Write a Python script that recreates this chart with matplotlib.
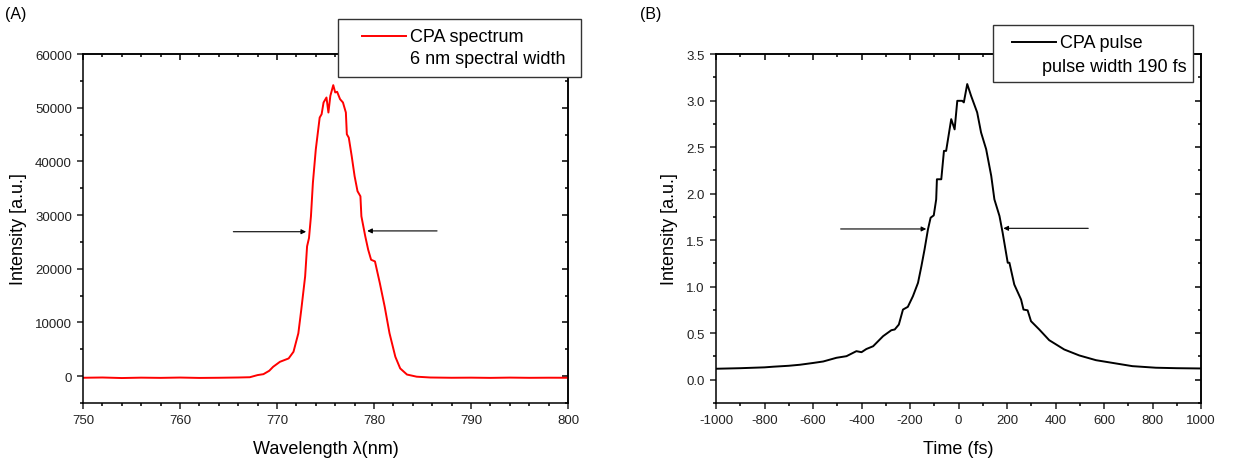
import matplotlib
matplotlib.use("Agg")
import matplotlib.pyplot as plt
from matplotlib.patches import Rectangle
from matplotlib.lines import Line2D
from matplotlib.ticker import MultipleLocator, FormatStrFormatter

plt.rcParams['font.family'] = ['Liberation Sans', 'DejaVu Sans']
plt.rcParams['axes.unicode_minus'] = False

# ---- data: panel A (spectrum) ----
wavelength = [750, 752, 754, 756, 758, 760, 762, 764, 766, 767.2,
              768.0, 768.6, 769.2, 769.6, 770.3, 771.2, 771.7, 772.2, 772.5, 772.9,
              773.1, 773.3, 773.5, 773.7, 774.0, 774.4, 774.6, 774.8, 775.1, 775.3,
              775.5, 775.8, 776.0, 776.2, 776.5, 776.8, 777.1, 777.2, 777.4, 777.7,
              778.0, 778.3, 778.6, 778.7, 779.1, 779.4, 779.7, 780.1, 780.6, 781.1,
              781.6, 782.2, 782.7, 783.4, 784.4, 785.8, 788, 790, 792, 794,
              796, 798, 800]
spectrum = [-300, -250, -350, -280, -320, -260, -330, -300, -250, -200,
            200, 370, 1000, 1740, 2670, 3300, 4540, 7980, 12340, 18560,
            24170, 25740, 29780, 36010, 42240, 48160, 48790, 50970, 51900, 49100,
            52210, 54200, 52840, 52960, 51590, 50970, 49100, 45050, 44420, 40990,
            37250, 34450, 33500, 29780, 26040, 23550, 21680, 21370, 17330, 12960,
            7980, 3610, 1440, 300, -100, -250, -300, -280, -320, -270,
            -310, -290, -300]

# ---- data: panel B (pulse) ----
time_fs = [-1000, -900, -800, -764, -700, -654, -600, -558, -503, -462,
           -421, -400, -380, -352, -311, -277, -263, -246, -229, -209,
           -188, -167, -153, -140, -126, -115, -102, -92, -89, -71,
           -60, -51, -30, -16, -5, 15, 22, 36, 52, 77,
           93, 114, 135, 148, 169, 182, 203, 210, 230, 258,
           268, 285, 299, 333, 374, 436, 498, 567, 649, 717,
           814, 900, 1000]
pulse = [0.118, 0.124, 0.133, 0.140, 0.150, 0.161, 0.180, 0.196, 0.236, 0.253,
         0.307, 0.296, 0.330, 0.360, 0.468, 0.532, 0.540, 0.593, 0.754, 0.783,
         0.897, 1.041, 1.22, 1.40, 1.615, 1.741, 1.766, 1.938, 2.154, 2.154,
         2.459, 2.459, 2.80, 2.69, 2.997, 2.997, 2.98, 3.177, 3.05, 2.872,
         2.657, 2.477, 2.19, 1.938, 1.759, 1.58, 1.257, 1.257, 1.023, 0.862,
         0.754, 0.746, 0.629, 0.54, 0.425, 0.325, 0.261, 0.21, 0.175, 0.146,
         0.129, 0.124, 0.121]

# FWHM arrows: (tail_x, head_x, y)
arrows_A = [(765.5, 773.0, 26900), (786.5, 779.3, 27050)]
arrows_B = [(-486, -133, 1.62), (535, 185, 1.627)]

W, H = 1237, 464
fig = plt.figure(figsize=(W / 100, H / 100), dpi=100)

def fx(px):
    return px / W

def fy(py):
    return 1 - py / H

axA = fig.add_axes([fx(83), fy(404), 485 / W, 349 / H])
axB = fig.add_axes([fx(716), fy(404), 485 / W, 349 / H])

TICK_FS = 9.5
LABEL_FS = 13


def style(ax, xmaj, xmin, ymaj, ymin):
    for s in ax.spines.values():
        s.set_linewidth(1.1)
    ax.xaxis.set_major_locator(MultipleLocator(xmaj))
    ax.xaxis.set_minor_locator(MultipleLocator(xmin))
    ax.yaxis.set_major_locator(MultipleLocator(ymaj))
    ax.yaxis.set_minor_locator(MultipleLocator(ymin))
    ax.tick_params(which='major', direction='out', length=4.5, width=1.1,
                   labelsize=TICK_FS, colors='#222222')
    ax.tick_params(which='minor', direction='out', length=2.5, width=1.1)
    # inward ticks on top and right
    top = ax.secondary_xaxis('top')
    top.xaxis.set_major_locator(MultipleLocator(xmaj))
    top.xaxis.set_minor_locator(MultipleLocator(xmin))
    top.tick_params(which='major', direction='in', length=4.5, width=1.1, labeltop=False)
    top.tick_params(which='minor', direction='in', length=2.5, width=1.1)
    top.spines['top'].set_linewidth(1.1)
    right = ax.secondary_yaxis('right')
    right.yaxis.set_major_locator(MultipleLocator(ymaj))
    right.yaxis.set_minor_locator(MultipleLocator(ymin))
    right.tick_params(which='major', direction='in', length=4.5, width=1.1, labelright=False)
    right.tick_params(which='minor', direction='in', length=2.5, width=1.1)
    right.spines['right'].set_linewidth(1.1)


# Panel A
axA.plot(wavelength, spectrum, color='#ff0000', lw=1.4)
axA.set_xlim(750, 800)
axA.set_ylim(-5000, 60000)
style(axA, 10, 2, 10000, 5000)
axA.set_yticks(range(0, 60001, 10000))
axA.set_xlabel('Wavelength λ(nm)', fontsize=LABEL_FS, labelpad=10)
axA.set_ylabel('Intensity [a.u.]', fontsize=LABEL_FS, labelpad=6)
for tx, hx, yv in arrows_A:
    axA.annotate('', xy=(hx, yv), xytext=(tx, yv),
                 arrowprops=dict(arrowstyle='-|>', lw=0.8, color='black',
                                 mutation_scale=7, shrinkA=0, shrinkB=0))

# Panel B
axB.plot(time_fs, pulse, color='black', lw=1.4)
axB.set_xlim(-1000, 1000)
axB.set_ylim(-0.25, 3.5)
style(axB, 200, 100, 0.5, 0.25)
axB.set_yticks([0.0, 0.5, 1.0, 1.5, 2.0, 2.5, 3.0, 3.5])
axB.yaxis.set_major_formatter(FormatStrFormatter('%.1f'))
axB.set_xlabel('Time (fs)', fontsize=LABEL_FS, labelpad=10)
axB.set_ylabel('Intensity [a.u.]', fontsize=LABEL_FS, labelpad=6)
for tx, hx, yv in arrows_B:
    axB.annotate('', xy=(hx, yv), xytext=(tx, yv),
                 arrowprops=dict(arrowstyle='-|>', lw=0.8, color='black',
                                 mutation_scale=7, shrinkA=0, shrinkB=0))

# Legend boxes (drawn by hand, as in the original)
def legend_box(x0, y0, x1, y1, color, line_x0, line_x1, line_y, t1, t1x, t2, t2x, t2y):
    fig.add_artist(Rectangle((fx(x0), fy(y1)), fx(x1) - fx(x0), fy(y0) - fy(y1),
                             transform=fig.transFigure, facecolor='white',
                             edgecolor='#333333', lw=1.0, zorder=5))
    fig.add_artist(Line2D([fx(line_x0), fx(line_x1)], [fy(line_y), fy(line_y)],
                          transform=fig.transFigure, color=color, lw=1.4, zorder=6))
    fig.text(fx(t1x), fy(line_y), t1, fontsize=13, va='center', ha='left', zorder=7)
    fig.text(fx(t2x), fy(t2y), t2, fontsize=13, va='center', ha='left', zorder=7)

legend_box(338, 20, 581, 78, '#ff0000', 362, 406, 37, 'CPA spectrum', 410,
           '6 nm spectral width', 410, 60)
legend_box(993, 26, 1193, 83, 'black', 1012, 1056, 43, 'CPA pulse', 1060,
           'pulse width 190 fs', 1042, 67)

fig.text(fx(5), fy(15), '(A)', fontsize=11.5, va='center', ha='left')
fig.text(fx(640), fy(15), '(B)', fontsize=11.5, va='center', ha='left')

fig.savefig('out.png', dpi=100)
